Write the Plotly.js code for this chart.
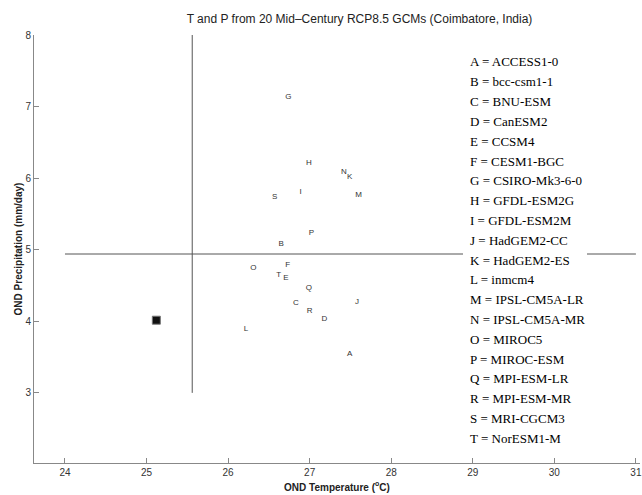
<!DOCTYPE html>
<html>
<head>
<meta charset="utf-8">
<script src="https://cdn.plot.ly/plotly-3.0.1.min.js"></script>
<style>html,body{margin:0;padding:0;background:#fff;}#chart{width:642px;height:495px;}</style>
</head>
<body>
<div id="chart"></div>
<script>
// Model letters, names and mid-century OND values
var letters = ["A","B","C","D","E","F","G","H","I","J","K","L","M","N","O","P","Q","R","S","T"];
var models = ["ACCESS1-0","bcc-csm1-1","BNU-ESM","CanESM2","CCSM4","CESM1-BGC","CSIRO-Mk3-6-0","GFDL-ESM2G","GFDL-ESM2M","HadGEM2-CC","HadGEM2-ES","inmcm4","IPSL-CM5A-LR","IPSL-CM5A-MR","MIROC5","MIROC-ESM","MPI-ESM-LR","MPI-ESM-MR","MRI-CGCM3","NorESM1-M"];
var tempC = [27.49,26.65,26.83,27.18,26.71,26.73,26.74,26.99,26.89,27.58,27.49,26.22,27.60,27.42,26.31,27.02,26.99,27.00,26.57,26.62];
var precipMM = [3.54,5.08,4.26,4.03,4.61,4.79,7.13,6.21,5.81,4.27,6.02,3.89,5.76,6.09,4.74,5.24,4.46,4.15,5.74,4.64];
// Historical (baseline) point
var histT = [25.12];
var histP = [4.015];
// Reference cross lines
var refLineT = [25.56];      // vertical line temperature
var refLineTSpanP = [3, 8];  // its precipitation span
var refLineP = [4.94];       // horizontal line precipitation
var refLinePSpanT = [24, 31];// its temperature span
// Axis ticks
var xTicks = [24,25,26,27,28,29,30,31];
var yTicks = [3,4,5,6,7,8];

var traces = [
  {
    x: tempC, y: precipMM, text: letters, mode: "text", type: "scatter",
    textposition: "middle center",
    textfont: {family: "Liberation Sans, Arial, sans-serif", size: 8, color: "#333"},
    hoverinfo: "none", showlegend: false
  },
  {
    x: histT, y: histP, mode: "markers", type: "scatter",
    marker: {symbol: "square", size: 8, color: "#111", line: {color: "#777", width: 1}},
    hoverinfo: "none", showlegend: false
  }
];

// Legend-like text list
var plotL = 34, plotT = 35, plotW = 606, plotH = 428;
var annotations = [];
for (var i = 0; i < letters.length; i++) {
  var py = 62 + i * 19.8;
  annotations.push({
    xref: "paper", yref: "paper",
    x: (468 - plotL) / plotW, y: (plotT + plotH - py) / plotH,
    xanchor: "left", yanchor: "middle", showarrow: false,
    text: letters[i] + " = " + models[i],
    font: {family: "Liberation Serif, Times New Roman, serif", size: 13, color: "#000"}
  });
}

var shapes = [
  {type: "line", xref: "x", yref: "y", x0: refLinePSpanT[0], x1: refLinePSpanT[1], y0: refLineP[0], y1: refLineP[0], line: {color: "#555", width: 1}},
  {type: "line", xref: "x", yref: "y", x0: refLineT[0], x1: refLineT[0], y0: refLineTSpanP[0], y1: refLineTSpanP[1], line: {color: "#555", width: 1}},
  {type: "rect", xref: "paper", yref: "paper", x0: (463 - plotL) / plotW, x1: (587 - plotL) / plotW, y0: (plotT + plotH - 452) / plotH, y1: (plotT + plotH - 50) / plotH, fillcolor: "#fff", line: {width: 0}}
];

var layout = {
  width: 642, height: 495,
  margin: {l: plotL, r: 642 - plotL - plotW, t: plotT, b: 495 - plotT - plotH},
  paper_bgcolor: "#fff", plot_bgcolor: "#fff",
  font: {family: "Liberation Sans, Arial, sans-serif", color: "#333"},
  title: {
    text: "T and P from 20 Mid\u2013Century RCP8.5 GCMs (Coimbatore, India)",
    font: {family: "Liberation Sans, Arial, sans-serif", size: 12, color: "#222"},
    xref: "container", x: 359.5 / 642, xanchor: "center",
    yref: "container", y: 1 - 19 / 495, yanchor: "middle"
  },
  xaxis: {
    range: [23.62, 31.05], tickvals: xTicks, ticktext: xTicks.map(String),
    ticks: "inside", ticklen: 5, tickcolor: "#888", tickwidth: 1,
    showline: true, linecolor: "#888", linewidth: 1, mirror: false,
    showgrid: false, zeroline: false,
    tickfont: {size: 10, color: "#333"},
    title: {text: "<b>OND Temperature (<sup>o</sup>C)</b>", font: {size: 10, color: "#222"}, standoff: 6},
    automargin: false
  },
  yaxis: {
    range: [2.02, 8.0], tickvals: yTicks, ticktext: yTicks.map(String),
    ticks: "inside", ticklen: 5, tickcolor: "#888", tickwidth: 1,
    showline: true, linecolor: "#888", linewidth: 1, mirror: false,
    showgrid: false, zeroline: false,
    tickfont: {size: 10, color: "#333"},
    title: {text: "<b>OND Precipitation (mm/day)</b>", font: {size: 10, color: "#222"}, standoff: 0},
    automargin: false
  },
  annotations: annotations,
  shapes: shapes,
  hovermode: false
};

Plotly.newPlot("chart", traces, layout, {displayModeBar: false, staticPlot: true});
</script>
</body>
</html>
